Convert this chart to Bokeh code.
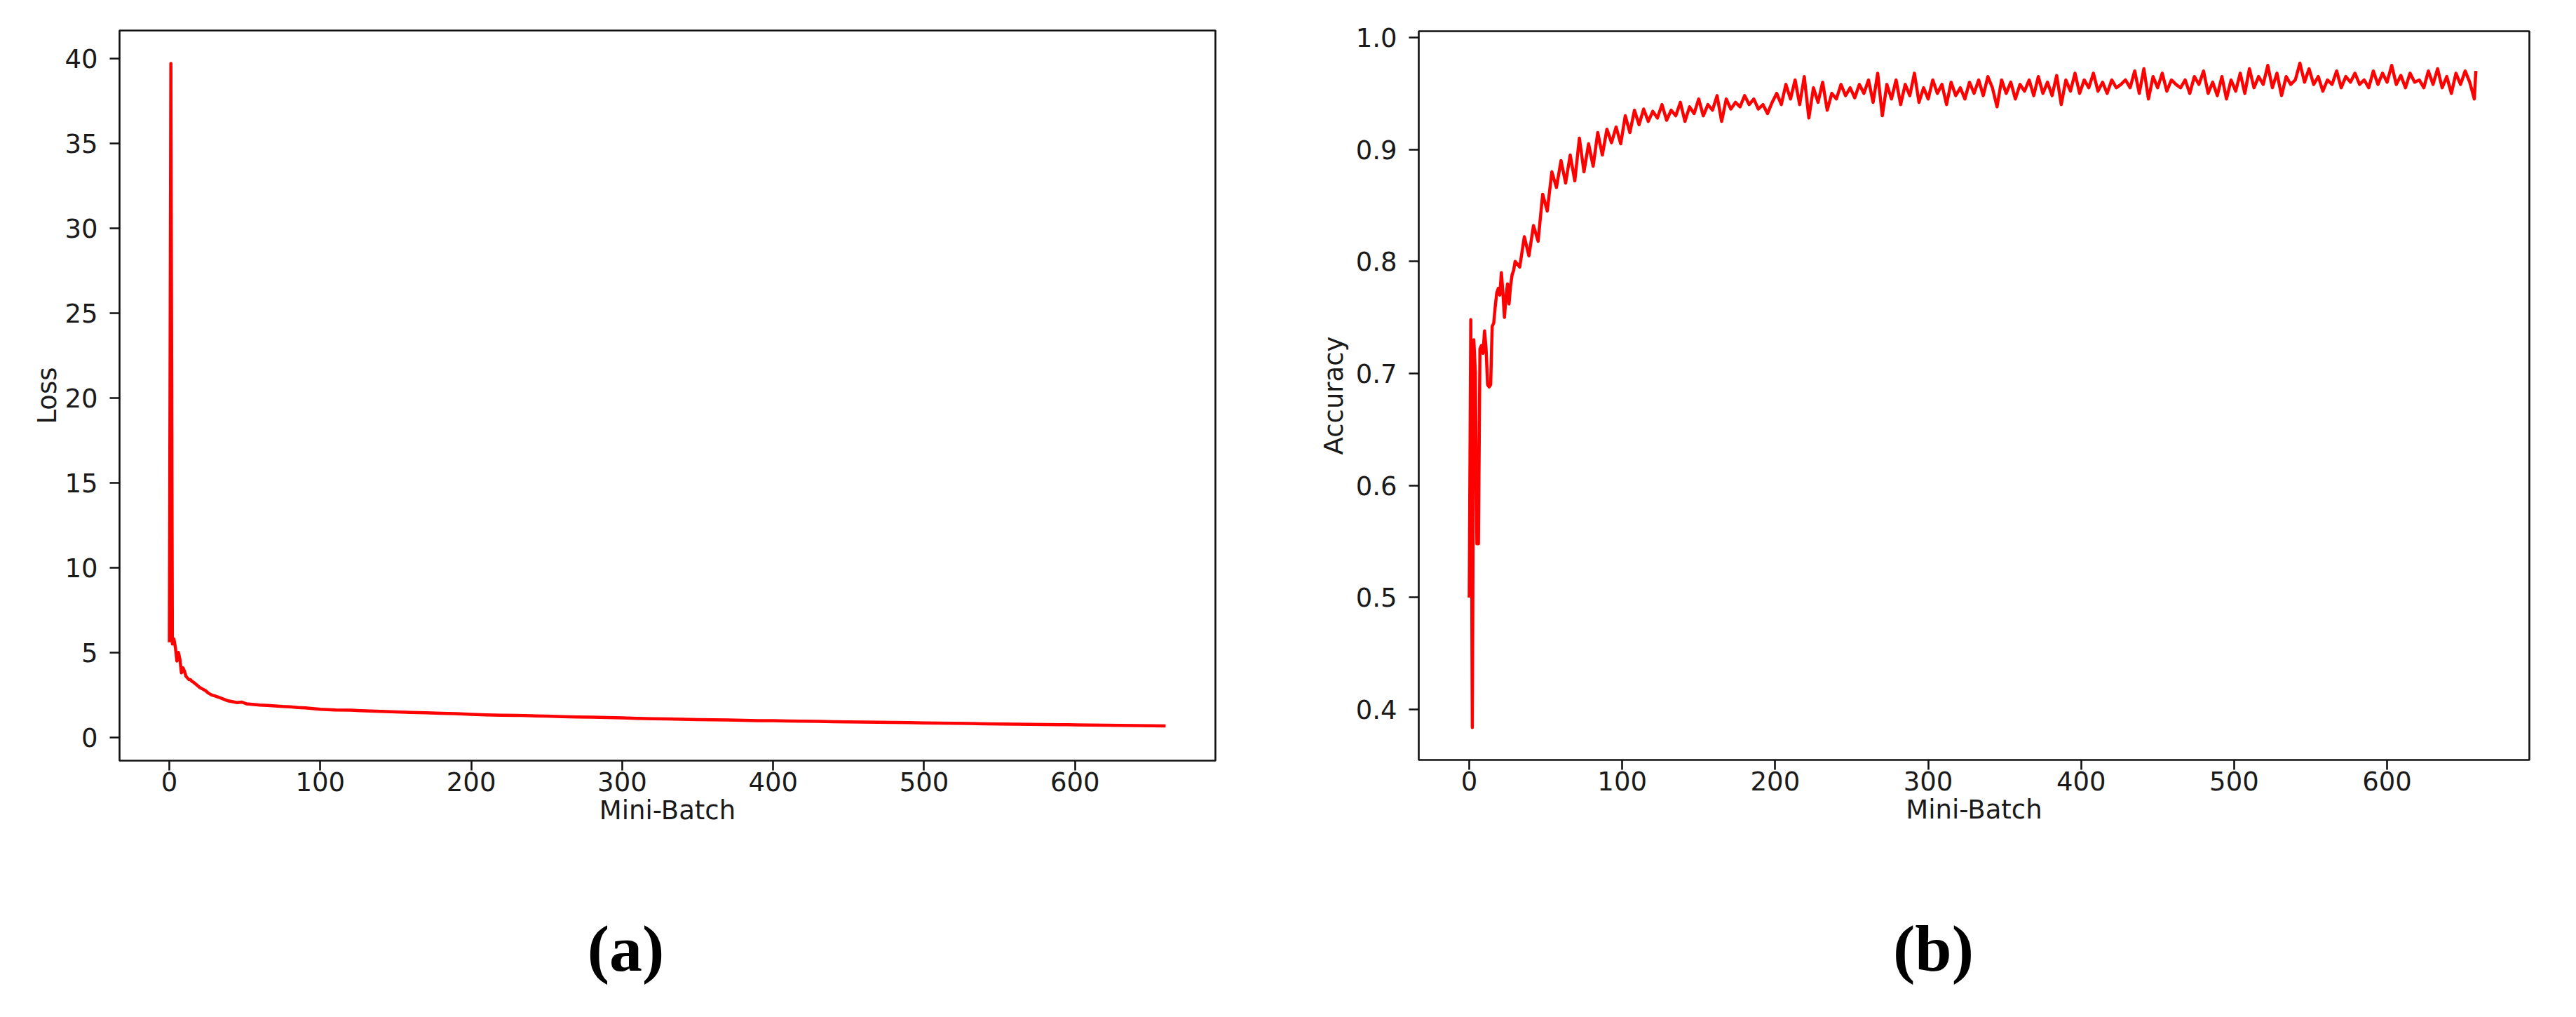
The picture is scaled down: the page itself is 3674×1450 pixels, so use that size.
from bokeh.plotting import figure
from bokeh.layouts import row, column
from bokeh.models import FixedTicker, PrintfTickFormatter, Range1d
from bokeh.core.properties import value
from bokeh.embed import file_html
from bokeh.resources import INLINE

# ---------------- data ----------------
loss_batch = [0, 1, 2, 3, 4, 5, 6, 7, 8, 9, 10, 11, 12, 13, 14, 15, 16, 18, 20, 22,
              24, 26, 28, 30, 33, 36, 39, 42, 45, 48, 51, 55, 60, 65, 70, 75, 80, 85,
              90, 95, 100, 110, 120, 130, 140, 150, 160, 170, 180, 190, 200, 210, 220,
              230, 240, 250, 260, 270, 280, 290, 300, 310, 320, 330, 340, 350, 360,
              370, 380, 390, 400, 410, 420, 430, 440, 450, 460, 470, 480, 490, 500,
              510, 520, 530, 540, 550, 560, 570, 580, 590, 600, 610, 620, 630, 640,
              650, 660]
loss_value = [5.6, 39.7, 5.5, 5.8, 5.3, 4.5, 5.0, 4.6, 3.8, 4.1, 3.9, 3.6, 3.5, 3.4,
              3.4, 3.3, 3.25, 3.1, 2.95, 2.85, 2.75, 2.6, 2.5, 2.45, 2.35, 2.25, 2.15,
              2.1, 2.05, 2.08, 1.98, 1.95, 1.9, 1.88, 1.85, 1.82, 1.8, 1.76, 1.74, 1.7,
              1.66, 1.62, 1.6, 1.56, 1.53, 1.5, 1.47, 1.45, 1.42, 1.4, 1.36, 1.33, 1.31,
              1.3, 1.27, 1.25, 1.22, 1.2, 1.19, 1.17, 1.15, 1.12, 1.1, 1.09, 1.07, 1.05,
              1.04, 1.03, 1.01, 0.99, 0.98, 0.96, 0.95, 0.94, 0.92, 0.91, 0.9, 0.89,
              0.88, 0.87, 0.85, 0.84, 0.83, 0.82, 0.8, 0.79, 0.78, 0.77, 0.76, 0.75,
              0.74, 0.73, 0.72, 0.71, 0.7, 0.69, 0.68]

acc_batch = list(range(0, 31)) + list(range(33, 658, 3)) + [658, 660]
acc_value = [
    0.500, 0.748, 0.384, 0.730, 0.700, 0.548, 0.548, 0.722, 0.725, 0.718, 0.738,
    0.722, 0.690, 0.688, 0.690, 0.742, 0.745, 0.760, 0.772, 0.776, 0.770, 0.790,
    0.772, 0.750, 0.768, 0.780, 0.762, 0.778, 0.788, 0.792, 0.800,
    0.795, 0.822, 0.805, 0.832, 0.818, 0.860, 0.845, 0.880, 0.866, 0.890, 0.870,
    0.895, 0.872, 0.910, 0.880, 0.905, 0.885, 0.915, 0.895, 0.918, 0.906, 0.920,
    0.905, 0.930, 0.915, 0.935, 0.922, 0.936, 0.925, 0.934, 0.928, 0.940, 0.926,
    0.935, 0.930, 0.942, 0.925, 0.938, 0.932, 0.945, 0.930, 0.940, 0.935, 0.948,
    0.925, 0.945, 0.936, 0.942, 0.938, 0.948, 0.940, 0.945, 0.936, 0.940, 0.932,
    0.942, 0.950, 0.940, 0.958, 0.945, 0.962, 0.940, 0.965, 0.928, 0.955, 0.942,
    0.960, 0.935, 0.950, 0.945, 0.958, 0.948, 0.955, 0.946, 0.958, 0.950, 0.962,
    0.942, 0.968, 0.930, 0.958, 0.945, 0.962, 0.940, 0.958, 0.948, 0.968, 0.942,
    0.955, 0.945, 0.962, 0.950, 0.958, 0.940, 0.960, 0.948, 0.955, 0.945, 0.960,
    0.950, 0.962, 0.948, 0.965, 0.955, 0.938, 0.962, 0.950, 0.960, 0.945, 0.958,
    0.952, 0.962, 0.948, 0.965, 0.950, 0.960, 0.948, 0.966, 0.940, 0.962, 0.952,
    0.968, 0.950, 0.962, 0.955, 0.968, 0.952, 0.960, 0.950, 0.962, 0.955, 0.958,
    0.962, 0.955, 0.970, 0.950, 0.972, 0.945, 0.965, 0.955, 0.968, 0.952, 0.962,
    0.958, 0.955, 0.962, 0.950, 0.965, 0.958, 0.970, 0.950, 0.960, 0.948, 0.965,
    0.945, 0.962, 0.952, 0.968, 0.950, 0.972, 0.955, 0.965, 0.958, 0.975, 0.955,
    0.968, 0.948, 0.965, 0.958, 0.962, 0.977, 0.960, 0.972, 0.958, 0.965, 0.952,
    0.962, 0.958, 0.970, 0.955, 0.965, 0.960, 0.968, 0.958, 0.962, 0.955, 0.970,
    0.958, 0.968, 0.960, 0.975, 0.958, 0.966, 0.955, 0.968, 0.960, 0.962, 0.955,
    0.970, 0.958, 0.972, 0.955, 0.965, 0.950, 0.968, 0.958, 0.970, 0.960,
    0.945, 0.970]

x_ticks = [0, 100, 200, 300, 400, 500, 600]
loss_ticks = [0, 5, 10, 15, 20, 25, 30, 35, 40]
acc_ticks = [0.4, 0.5, 0.6, 0.7, 0.8, 0.9, 1.0]
x_label = "Mini-Batch"
panel_labels = ["(a)", "(b)"]

# ---------------- styling ----------------
FONT = "DejaVu Sans"
FS = "37px"
TXT = "#1a1a1a"
RED = "#ff0000"


def style(p, xt, yt, yfmt, ylab_standoff):
    p.xgrid.visible = False
    p.ygrid.visible = False
    p.outline_line_color = "#111111"
    p.outline_line_width = 2.6
    p.outline_line_alpha = 1.0
    p.background_fill_color = "white"
    p.border_fill_color = "white"
    for ax in (p.xaxis[0], p.yaxis[0]):
        ax.axis_line_color = None
        ax.major_tick_in = 0
        ax.major_tick_out = 14
        ax.major_tick_line_width = 2.6
        ax.major_tick_line_color = "#111111"
        ax.minor_tick_line_color = None
        ax.major_label_text_font = FONT
        ax.major_label_text_font_size = FS
        ax.major_label_text_color = TXT
        ax.axis_label_text_font = FONT
        ax.axis_label_text_font_size = FS
        ax.axis_label_text_font_style = "normal"
        ax.axis_label_text_color = TXT
    p.xaxis[0].ticker = FixedTicker(ticks=xt)
    p.yaxis[0].ticker = FixedTicker(ticks=yt)
    p.yaxis[0].formatter = PrintfTickFormatter(format=yfmt)
    p.xaxis[0].major_label_standoff = 2
    p.yaxis[0].major_label_standoff = 17
    p.xaxis[0].axis_label_standoff = 3
    p.yaxis[0].axis_label_standoff = ylab_standoff


# left panel  (page: frame x 178..1741, y 51..1092)
L1, FW1, R1 = 170, 1563, 90
p1 = figure(frame_width=FW1, frame_height=1041, min_border_left=L1,
            min_border_right=R1, min_border_top=43, min_border_bottom=140,
            x_range=Range1d(-33, 693), y_range=Range1d(-1.37, 41.64),
            output_backend="svg", toolbar_location=None,
            x_axis_label=x_label, y_axis_label="Loss")
p1.line(loss_batch, loss_value, line_color=RED, line_width=4.5, line_join="round")
style(p1, x_ticks, loss_ticks, "%d", 0)

# right panel (page: frame x 2031..3615, y 52..1091)
L2, FW2, R2 = 200, 1584, 40
p2 = figure(frame_width=FW2, frame_height=1039, min_border_left=L2,
            min_border_right=R2, min_border_top=44, min_border_bottom=141,
            x_range=Range1d(-33, 693), y_range=Range1d(0.355, 1.0055),
            output_backend="svg", toolbar_location=None,
            x_axis_label=x_label, y_axis_label="Accuracy")
p2.line(acc_batch, acc_value, line_color=RED, line_width=4.5, line_join="round")
style(p2, x_ticks, acc_ticks, "%.1f", 7)


def label_strip(left, fw, right, x0, height, text, x_center, y_center):
    # strip whose frame lines up with the panel frame above it (page pixels)
    s = figure(frame_width=fw, frame_height=height, min_border_left=left,
               min_border_right=right, min_border_top=0, min_border_bottom=0,
               x_range=Range1d(x0, x0 + fw), y_range=Range1d(0, height),
               output_backend="svg", toolbar_location=None)
    s.axis.visible = False
    s.grid.visible = False
    s.outline_line_color = None
    s.text(x=[x_center], y=[y_center], text=[text], text_align="center",
           text_baseline="middle", text_font=value("Liberation Serif"),
           text_font_size="94px", text_font_style="bold", text_color="black")
    return s


# strips occupy page y 1232..1432; labels centred at page y ~1359
SH = 200
s1 = label_strip(L1, FW1, R1, 178, SH, panel_labels[0], 900, SH - (1359 - 1232))
s2 = label_strip(L2, FW2, R2, 2031, SH, panel_labels[1], 2765, SH - (1359 - 1232))

layout = row(column(p1, s1), column(p2, s2))
open("out.html", "w").write(file_html(layout, INLINE))
